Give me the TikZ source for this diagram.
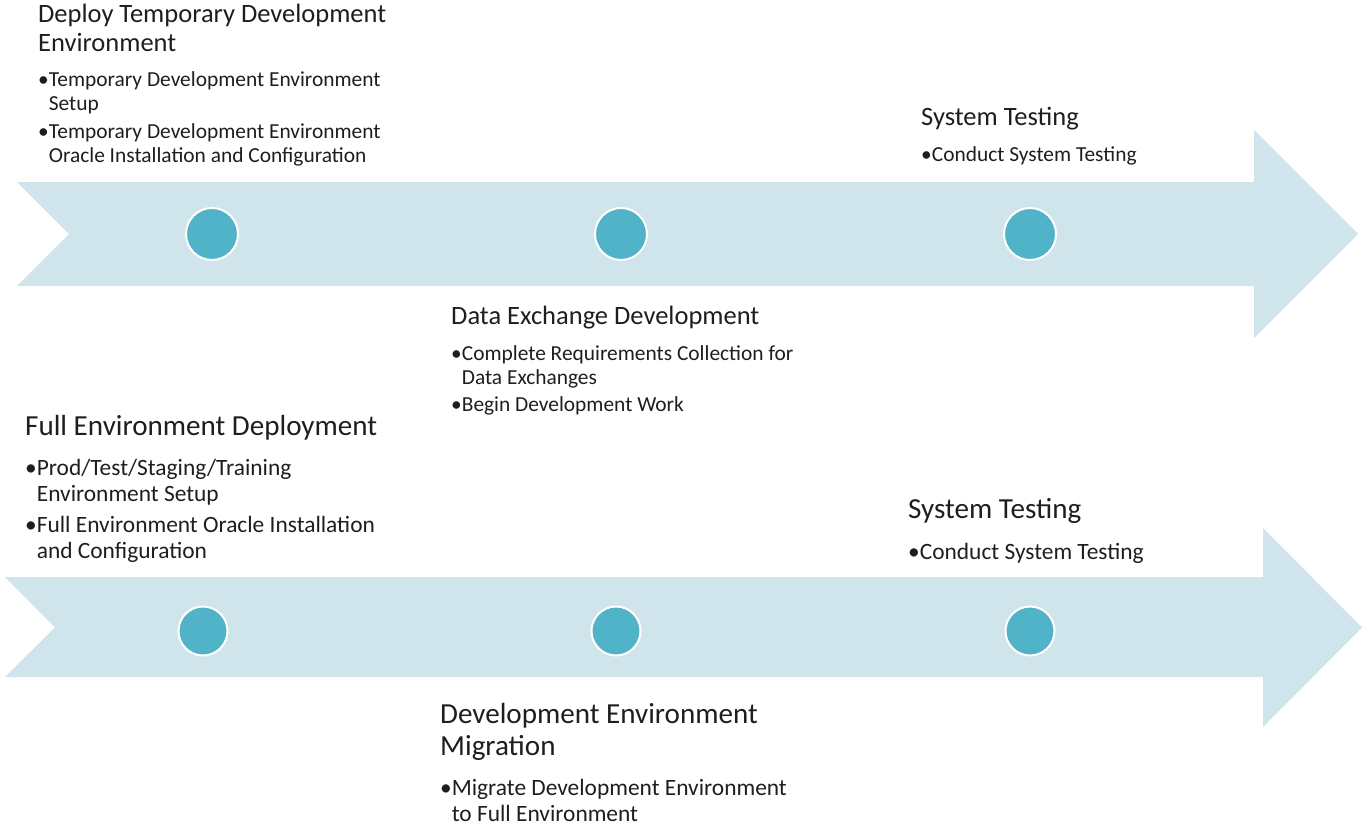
\documentclass[tikz,border=0pt]{standalone}
\usepackage{fontspec}
\setmainfont{Carlito}
\usetikzlibrary{positioning}

\definecolor{bandblue}{HTML}{D0E4EC}
\definecolor{dotblue}{HTML}{51B3C8}
\definecolor{inkgray}{HTML}{1E1E1E}

\newcommand{\cont}{\phantom{•}}

\tikzset{
    band/.style={fill=bandblue, draw=none},
    stagedot/.style={circle, fill=dotblue, draw=white, line width=2pt, minimum size=52pt, inner sep=0pt},
    stagedotb/.style={stagedot, minimum size=49pt},
    phase/.style={anchor=north west, inner sep=0pt, align=left, text=inkgray, font=\fontsize{26.5}{29}\selectfont},
    tasks/.style={anchor=north west, inner sep=0pt, align=left, text=inkgray, font=\fontsize{21.4}{24}\selectfont},
    phaseb/.style={phase, font=\fontsize{29.1}{32}\selectfont},
    tasksb/.style={tasks, font=\fontsize{23.4}{26.5}\selectfont}
}

\begin{document}
\begin{tikzpicture}[x=1pt, y=-1pt]
    \useasboundingbox (0,0) rectangle (1362,825);

    % upper timeline
    \fill[band] (17,182) -- (1254,182) -- (1254,130) -- (1358,234) -- (1254,338)
        -- (1254,286) -- (17,286) -- (69,234) -- cycle;
    \node[stagedot] (dotA) at (212,234) {};
    \node[stagedot] (dotB) at (621,234) {};
    \node[stagedot] (dotC) at (1030,234) {};

    \node[phase] (deployhead) at (38,3.5) {Deploy Temporary Development\\Environment};
    \node[tasks] (deploytasks) at (38,71.5) {•Temporary Development Environment\\\cont Setup\\[4pt]
        •Temporary Development Environment\\\cont Oracle Installation and Configuration};

    \node[phase] (testhead) at (921,107) {System Testing};
    \node[tasks] (testtasks) at (921,146.5) {•Conduct System Testing};

    \node[phase] (exchhead) at (451,306) {Data Exchange Development};
    \node[tasks] (exchtasks) at (451,345.5) {•Complete Requirements Collection for\\\cont Data Exchanges\\[3pt]
        •Begin Development Work};

    % lower timeline
    \fill[band] (5,577) -- (1263,577) -- (1263,528) -- (1362,627.5) -- (1263,727)
        -- (1263,677) -- (5,677) -- (55,627.5) -- cycle;
    \node[stagedotb] (dotD) at (203,631) {};
    \node[stagedotb] (dotE) at (616,631) {};
    \node[stagedotb] (dotF) at (1030,631) {};

    \node[phaseb] (fullhead) at (25,415) {Full Environment Deployment};
    \node[tasksb] (fulltasks) at (25,459) {•Prod/Test/Staging/Training\\\cont Environment Setup\\[4pt]
        •Full Environment Oracle Installation\\\cont and Configuration};

    \node[phaseb] (test2head) at (908,498) {System Testing};
    \node[tasksb] (test2tasks) at (908,543) {•Conduct System Testing};

    \node[phaseb] (mighead) at (440,703) {Development Environment\\Migration};
    \node[tasksb] (migtasks) at (440,779) {•Migrate Development Environment\\\cont to Full Environment};
\end{tikzpicture}
\end{document}
